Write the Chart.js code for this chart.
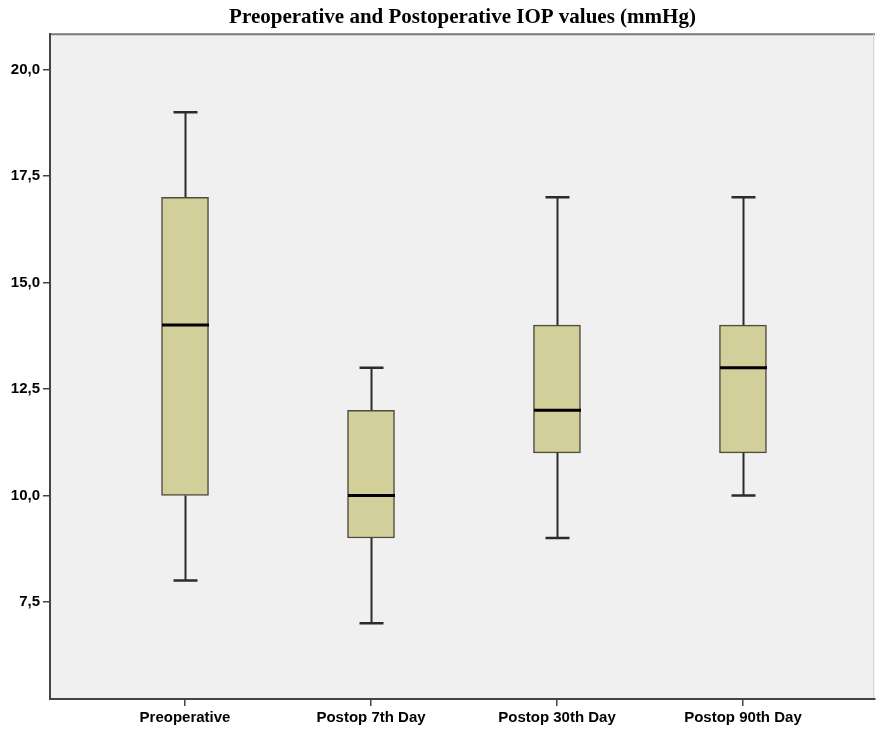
<!DOCTYPE html>
<html>
<head>
<meta charset="utf-8">
<script src="https://cdn.jsdelivr.net/npm/chart.js@4.4.0/dist/chart.umd.min.js"></script>
<style>
  html, body { margin: 0; padding: 0; background: #ffffff; }
  #wrap { width: 876px; height: 731px; }
</style>
</head>
<body>
<div id="wrap"><canvas id="chart" width="876" height="731"></canvas></div>
<script>
// box plot values (mmHg)
const categories = ['Preoperative', 'Postop 7th Day', 'Postop 30th Day', 'Postop 90th Day'];
const minValues = [8, 7, 9, 10];
const q1Values = [10, 9, 11, 11];
const medianValues = [14, 10, 12, 13];
const q3Values = [17, 12, 14, 14];
const maxValues = [19, 13, 17, 17];
const yTicks = [7.5, 10, 12.5, 15, 17.5, 20];

const AXIS_FONT = "'Liberation Sans Narrow', 'Arial Narrow', 'Liberation Sans', Arial, sans-serif";

// plot background + frame like SPSS
const plotFrame = {
  id: 'plotFrame',
  beforeDraw(chart) {
    const { ctx, chartArea: a } = chart;
    ctx.save();
    ctx.fillStyle = '#f0f0f0';
    ctx.fillRect(a.left, a.top, a.right - a.left, a.bottom - a.top);
    ctx.strokeStyle = '#7a7a7a';
    ctx.lineWidth = 2;
    ctx.beginPath();
    ctx.moveTo(a.left, a.top);
    ctx.lineTo(a.right, a.top);
    ctx.stroke();
    ctx.strokeStyle = '#d6d6d6';
    ctx.lineWidth = 1;
    ctx.beginPath();
    ctx.moveTo(a.right - 1.5, a.top);
    ctx.lineTo(a.right - 1.5, a.bottom);
    ctx.stroke();
    ctx.restore();
  }
};

// whiskers and medians on top of the floating bars
const whiskers = {
  id: 'whiskers',
  afterDatasetsDraw(chart) {
    const { ctx, scales: { x, y } } = chart;
    ctx.save();
    ctx.lineCap = 'butt';
    categories.forEach((c, i) => {
      const cx = Math.round(x.getPixelForValue(i)) + 0.5;
      const half = 23.5;
      const capHalf = 12;
      ctx.strokeStyle = '#2b2b2b';
      ctx.lineWidth = 2;
      ctx.beginPath();
      ctx.moveTo(cx, y.getPixelForValue(q1Values[i]));
      ctx.lineTo(cx, y.getPixelForValue(minValues[i]));
      ctx.moveTo(cx, y.getPixelForValue(q3Values[i]));
      ctx.lineTo(cx, y.getPixelForValue(maxValues[i]));
      ctx.stroke();
      // caps
      ctx.lineWidth = 2.5;
      ctx.beginPath();
      ctx.moveTo(cx - capHalf, y.getPixelForValue(minValues[i]));
      ctx.lineTo(cx + capHalf, y.getPixelForValue(minValues[i]));
      ctx.moveTo(cx - capHalf, y.getPixelForValue(maxValues[i]));
      ctx.lineTo(cx + capHalf, y.getPixelForValue(maxValues[i]));
      ctx.stroke();
      // median
      ctx.strokeStyle = '#000000';
      ctx.lineWidth = 3;
      ctx.beginPath();
      ctx.moveTo(cx - half, y.getPixelForValue(medianValues[i]));
      ctx.lineTo(cx + half, y.getPixelForValue(medianValues[i]));
      ctx.stroke();
    });
    ctx.restore();
  }
};

const boxData = categories.map((c, i) => ({ x: i, y: [q1Values[i], q3Values[i]] }));

new Chart(document.getElementById('chart'), {
  type: 'bar',
  data: {
    datasets: [{
      label: 'IOP',
      data: boxData,
      backgroundColor: '#d3cf9a',
      borderColor: '#4f4b3c',
      borderWidth: 1.5,
      borderSkipped: false,
      barThickness: 47,
    }]
  },
  options: {
    responsive: false,
    animation: false,
    layout: { padding: { right: 1 } },
    scales: {
      x: {
        type: 'linear',
        offset: false,
        min: -0.726,
        max: 3.71,
        afterBuildTicks: (s) => { s.ticks = categories.map((c, i) => ({ value: i })); },
        afterFit: (s) => { s.height = 32; },
        grid: { offset: false, drawOnChartArea: false, drawTicks: true, tickLength: 7, color: '#444', lineWidth: 1.5 },
        border: { display: true, color: '#444', width: 2 },
        ticks: {
          autoSkip: false,
          maxRotation: 0,
          padding: 3,
          color: '#000',
          font: { family: AXIS_FONT, size: 15, weight: 'bold' },
          callback: (v) => categories[v]
        }
      },
      y: {
        min: 5.22,
        max: 20.83,
        afterBuildTicks: (s) => { s.ticks = yTicks.map((v) => ({ value: v })); },
        afterFit: (s) => { s.width = 50; },
        grid: { drawOnChartArea: false, drawTicks: true, tickLength: 7, color: '#444', lineWidth: 1.5 },
        border: { display: true, color: '#444', width: 2 },
        ticks: {
          padding: 3,
          color: '#000',
          font: { family: AXIS_FONT, size: 15, weight: 'bold' },
          callback: (v) => v.toFixed(1).replace('.', ',')
        }
      }
    },
    plugins: {
      legend: { display: false },
      tooltip: { enabled: false },
      title: {
        display: true,
        fullSize: false,
        text: 'Preoperative and Postoperative IOP values (mmHg)',
        color: '#000',
        font: { family: "'Liberation Serif', 'Times New Roman', serif", size: 21, weight: 'bold' },
        padding: { top: 5, bottom: 4 }
      }
    }
  },
  plugins: [plotFrame, whiskers]
});
</script>
</body>
</html>
